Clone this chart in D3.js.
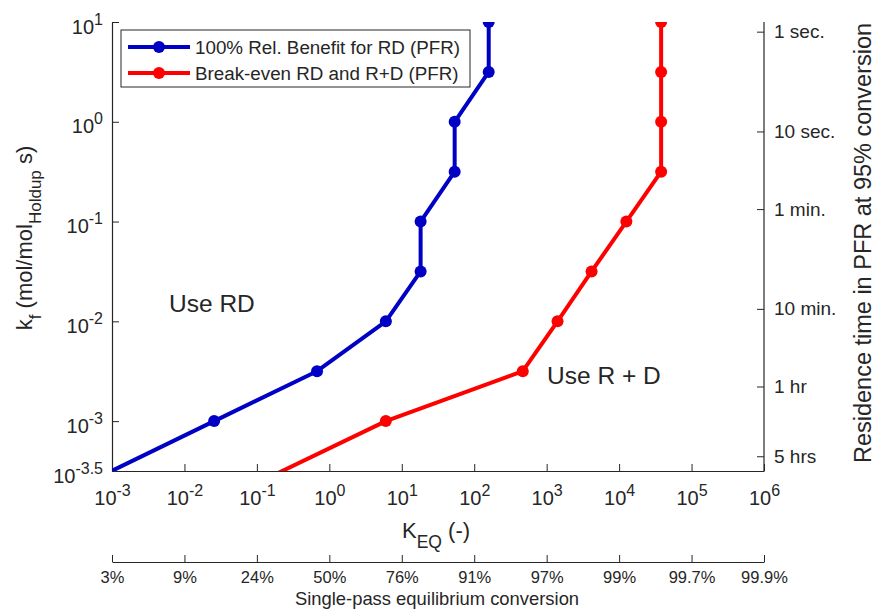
<!DOCTYPE html>
<html>
<head>
<meta charset="utf-8">
<script src="https://cdn.jsdelivr.net/npm/d3@7"></script>
<style>
  body { margin: 0; background: #fff; }
  svg { font-family: "Liberation Sans", Arial, sans-serif; }
  .domain, .tick line { stroke: #262626; }
</style>
</head>
<body>
<div id="chart"></div>
<script>
// kf values (mol/mol_Holdup s), as powers of ten
var kfExp = [-4, -3, -2.5, -2, -1.5, -1, -0.5, 0, 0.5, 1];
// K_EQ at each kf (log10)
var blueLogK = [-4.42, -1.59, -0.17, 0.78, 1.26, 1.26, 1.73, 1.73, 2.2, 2.2];
var redLogK  = [-2.08, 0.78, 2.67, 3.15, 3.62, 4.1, 4.58, 4.58, 4.58, 4.58];
var seriesNames = ['100% Rel. Benefit for RD (PFR)', 'Break-even RD and R+D (PFR)'];

var xTickExp = [-3, -2, -1, 0, 1, 2, 3, 4, 5, 6];
var yTickExp = [1, 0, -1, -2, -3, -3.5];
var conversionLabels = ['3%', '9%', '24%', '50%', '76%', '91%', '97%', '99%', '99.7%', '99.9%'];
var timeTicks = [1, 10, 60, 600, 3600, 18000]; // seconds
var timeLabels = ['1 sec.', '10 sec.', '1 min.', '10 min.', '1 hr', '5 hrs'];

(function () {
  var width = 875,
      height = 609,
      plotLeft = 112,
      plotRight = 764,
      plotTop = 22,
      plotBottom = 471,
      BLUE = '#0000c4',
      RED = '#ff0000',
      INK = '#262626',
      TICK = 7;

  var svg = d3.select('#chart')
    .append('svg')
    .attr('width', width)
    .attr('height', height);

  var x = d3.scaleLog().domain([1e-3, 1e6]).range([plotLeft, plotRight]);
  var y = d3.scaleLog().domain([Math.pow(10, -3.5), 10]).range([plotBottom, plotTop]);
  // residence time axis, log scale running the other way
  var tTop = 0.8;
  var t = d3.scaleLog().domain([tTop, tTop * Math.pow(10, 4.5)]).range([plotTop, plotBottom]);

  var supLabel = function (sel, exp) {
    sel.text(null);
    sel.append('tspan').text('10');
    sel.append('tspan').attr('dy', '-0.55em').attr('font-size', '0.8em').text(exp);
  };

  // bottom axis (K_EQ)
  var xAxis = svg.append('g')
    .attr('transform', 'translate(0,' + plotBottom + ')')
    .call(d3.axisBottom(x)
      .tickValues(xTickExp.map(function (e) { return Math.pow(10, e); }))
      .tickSizeInner(-TICK).tickSizeOuter(0).tickPadding(18));
  xAxis.selectAll('.tick text')
    .attr('fill', INK).attr('font-size', 20).attr('dy', '0.8em')
    .each(function (d, i) { supLabel(d3.select(this), xTickExp[i]); });

  // left axis (kf)
  var yAxis = svg.append('g')
    .attr('transform', 'translate(' + plotLeft + ',0)')
    .call(d3.axisLeft(y)
      .tickValues(yTickExp.map(function (e) { return Math.pow(10, e); }))
      .tickSizeInner(-TICK).tickSizeOuter(0).tickPadding(9));
  yAxis.selectAll('.tick text')
    .attr('fill', INK).attr('font-size', 20).attr('dy', '0.55em')
    .each(function (d, i) { supLabel(d3.select(this), yTickExp[i]); });

  // right axis (residence time)
  var rAxis = svg.append('g')
    .attr('transform', 'translate(' + plotRight + ',0)')
    .call(d3.axisRight(t)
      .tickValues(timeTicks)
      .tickFormat(function (d, i) { return timeLabels[i]; })
      .tickSizeInner(-TICK).tickSizeOuter(0).tickPadding(10));
  rAxis.selectAll('.tick text').attr('fill', INK).attr('font-size', 19);
  rAxis.select('.domain').attr('d', 'M0,' + plotTop + 'V' + plotBottom);

  // secondary bottom axis (conversion)
  var cAxis = svg.append('g')
    .attr('transform', 'translate(0,562)')
    .call(d3.axisBottom(x)
      .tickValues(xTickExp.map(function (e) { return Math.pow(10, e); }))
      .tickFormat(function (d, i) { return conversionLabels[i]; })
      .tickSizeInner(-TICK).tickSizeOuter(0).tickPadding(9));
  cAxis.selectAll('.tick text').attr('fill', INK).attr('font-size', 16.5);

  svg.selectAll('.domain').attr('stroke-width', 1.2);

  // axis titles
  var kLabel = svg.append('text')
    .attr('x', 436).attr('y', 538)
    .attr('text-anchor', 'middle')
    .attr('font-size', 22).attr('fill', INK);
  kLabel.append('tspan').text('K');
  kLabel.append('tspan').attr('dy', 10).attr('font-size', 17.5).text('EQ');
  kLabel.append('tspan').attr('dy', -10).text(' (-)');

  svg.append('text')
    .attr('x', 437).attr('y', 605)
    .attr('text-anchor', 'middle')
    .attr('font-size', 18.4).attr('fill', INK)
    .text('Single-pass equilibrium conversion');

  var yLabel = svg.append('text')
    .attr('transform', 'translate(32,238) rotate(-90)')
    .attr('text-anchor', 'middle')
    .attr('font-size', 22).attr('fill', INK);
  yLabel.append('tspan').text('k');
  yLabel.append('tspan').attr('dy', 9).attr('font-size', 17).text('f');
  yLabel.append('tspan').attr('dy', -9).text(' (mol/mol');
  yLabel.append('tspan').attr('dy', 9).attr('font-size', 17).text('Holdup');
  yLabel.append('tspan').attr('dy', -9).text(' s)');

  svg.append('text')
    .attr('transform', 'translate(871,243) rotate(-90)')
    .attr('text-anchor', 'middle')
    .attr('font-size', 23.5).attr('fill', INK)
    .text('Residence time in PFR at 95% conversion');

  // region labels
  svg.append('text').attr('x', 169).attr('y', 312)
    .attr('font-size', 24.5).attr('fill', INK).text('Use RD');
  svg.append('text').attr('x', 547).attr('y', 384)
    .attr('font-size', 24.5).attr('fill', INK).text('Use R + D');

  // data
  svg.append('clipPath').attr('id', 'plot-clip')
    .append('rect')
    .attr('x', plotLeft).attr('y', plotTop)
    .attr('width', plotRight - plotLeft).attr('height', plotBottom - plotTop);

  var series = [
    { name: seriesNames[0], color: BLUE, logK: blueLogK },
    { name: seriesNames[1], color: RED, logK: redLogK }
  ];

  var line = d3.line()
    .x(function (d) { return x(Math.pow(10, d[0])); })
    .y(function (d) { return y(Math.pow(10, d[1])); });

  var plot = svg.append('g').attr('clip-path', 'url(#plot-clip)');

  series.forEach(function (s) {
    var pts = s.logK.map(function (k, i) { return [k, kfExp[i]]; });
    plot.append('path')
      .datum(pts)
      .attr('d', line)
      .attr('fill', 'none')
      .attr('stroke', s.color)
      .attr('stroke-width', 4)
      .attr('stroke-linejoin', 'round');
    plot.selectAll(null)
      .data(pts)
      .enter()
      .append('circle')
      .attr('cx', function (d) { return x(Math.pow(10, d[0])); })
      .attr('cy', function (d) { return y(Math.pow(10, d[1])); })
      .attr('r', 6)
      .attr('fill', s.color);
  });

  // legend
  var legend = svg.append('g').attr('transform', 'translate(121,30)');
  legend.append('rect')
    .attr('width', 349).attr('height', 57)
    .attr('fill', '#fff').attr('stroke', INK).attr('stroke-width', 1);
  series.forEach(function (s, i) {
    var ly = 17 + i * 26;
    legend.append('line')
      .attr('x1', 7).attr('x2', 69).attr('y1', ly).attr('y2', ly)
      .attr('stroke', s.color).attr('stroke-width', 4);
    legend.append('circle')
      .attr('cx', 38).attr('cy', ly).attr('r', 6).attr('fill', s.color);
    legend.append('text')
      .attr('x', 74).attr('y', ly).attr('dy', '0.35em')
      .attr('font-size', 18.8).attr('fill', INK)
      .text(s.name);
  });
})();
</script>
</body>
</html>
